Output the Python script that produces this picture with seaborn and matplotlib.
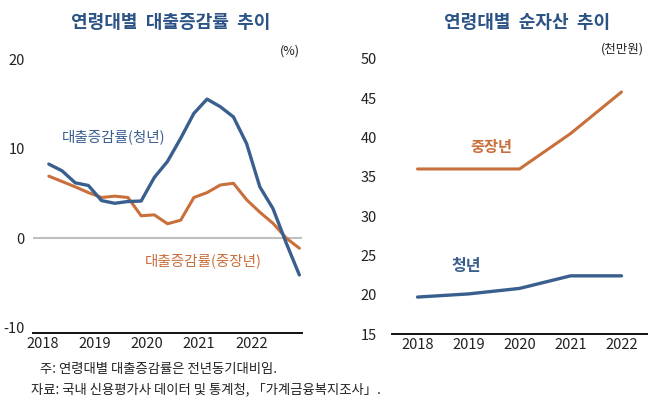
import numpy as np
import pandas as pd
import matplotlib
matplotlib.use("Agg")
import matplotlib.pyplot as plt
import seaborn as sns

# ---------------- data ----------------
quarters = [f"{y}Q{q}" for y in range(2018, 2023) for q in range(1, 5)]
loan_youth = [8.3, 7.55, 6.2, 5.9, 4.2, 3.9, 4.1, 4.15, 6.8, 8.6,
              11.2, 14.0, 15.6, 14.75, 13.6, 10.6, 5.75, 3.3, -0.55, -4.15]
loan_mid = [6.95, 6.35, 5.75, 5.1, 4.55, 4.7, 4.55, 2.5, 2.6, 1.6,
            2.0, 4.55, 5.1, 5.95, 6.15, 4.3, 2.9, 1.65, 0.0, -1.15]
year_labels = ["2018", "2019", "2020", "2021", "2022"]
asset_years = ["2018", "2019", "2020", "2021", "2022"]
asset_mid = [36.0, 36.0, 36.0, 40.5, 45.8]
asset_youth = [19.7, 20.1, 20.8, 22.4, 22.4]
left_yticks = [-10, 0, 10, 20]
right_yticks = [15, 20, 25, 30, 35, 40, 45, 50]

BLUE = "#3a5f8e"
ORANGE = "#c96f3b"
TITLE = "#2c5385"
TXT = "#222222"

sns.set_theme(style="white")
plt.rcParams["font.family"] = ["Noto Sans CJK KR", "DejaVu Sans"]

fig = plt.figure(figsize=(6.58, 4.01), dpi=100)

df_loan = pd.DataFrame({"q": quarters, "youth": loan_youth, "mid": loan_mid})
df_asset = pd.DataFrame({"y": asset_years, "youth": asset_youth, "mid": asset_mid})

# ---------------- left panel ----------------
axL = fig.add_axes([33 / 658, (401 - 333) / 401, 269 / 658, (333 - 55.5) / 401])
axL.axhline(0, color="#bfbfbf", lw=1.5, zorder=0)
sns.lineplot(data=df_loan, x="q", y="mid", ax=axL, color=ORANGE, lw=2.2, sort=False)
sns.lineplot(data=df_loan, x="q", y="youth", ax=axL, color=BLUE, lw=2.4, sort=False)
axL.set_xlim(-1.2, 19.2)
axL.set_ylim(-10.67, 20.5)
axL.set_yticks(left_yticks)
axL.set_yticklabels([str(v) for v in left_yticks])
axL.set_xticks([-0.43, 3.48, 7.4, 11.36, 15.36])
axL.set_xticklabels(year_labels)

# ---------------- right panel ----------------
axR = fig.add_axes([392 / 658, (401 - 334) / 401, 255 / 658, (334 - 51.1) / 401])
sns.lineplot(data=df_asset, x="y", y="mid", ax=axR, color=ORANGE, lw=2.2, sort=False)
sns.lineplot(data=df_asset, x="y", y="youth", ax=axR, color=BLUE, lw=2.4, sort=False)
axR.set_xlim(-0.5, 4.5)
axR.set_ylim(15, 51)
axR.set_yticks(right_yticks)
axR.set_yticklabels([str(v) for v in right_yticks])

for ax, pad in ((axL, 6), (axR, 11)):
    ax.set_xlabel("")
    ax.set_ylabel("")
    for s in ("top", "right", "left"):
        ax.spines[s].set_visible(False)
    ax.spines["bottom"].set_color("#111111")
    ax.spines["bottom"].set_linewidth(1.4)
    ax.tick_params(axis="both", length=0, labelsize=10.5, labelcolor=TXT)
    ax.tick_params(axis="y", pad=pad)
    ax.tick_params(axis="x", pad=3)
    ax.grid(False)
    ax.set_facecolor("none")

# texts positioned in pixel coords (figure pixels from top-left)
H = 401


def ftext(x, y, s, **kw):
    fig.text(x / 658, (H - y) / H, s, **kw)


ftext(171, 22, "연령대별  대출증감률  추이", fontsize=13, fontweight="bold",
      color=TITLE, ha="center", va="center")
ftext(527, 22, "연령대별  순자산  추이", fontsize=13, fontweight="bold",
      color=TITLE, ha="center", va="center")
ftext(290, 51, "(%)", fontsize=9, color=TXT, ha="center", va="center")
ftext(622, 49, "(천만원)", fontsize=9, color=TXT, ha="center", va="center")
ftext(114, 137, "대출증감률(청년)", fontsize=10.5, color=BLUE,
      ha="center", va="center")
ftext(203, 261, "대출증감률(중장년)", fontsize=10.5, color=ORANGE,
      ha="center", va="center")
ftext(491, 147, "중장년", fontsize=11, fontweight="bold", color=ORANGE,
      ha="center", va="center")
ftext(466, 266, "청년", fontsize=11.5, fontweight="bold", color=BLUE,
      ha="center", va="center")
ftext(40, 369, "주: 연령대별 대출증감률은 전년동기대비임.", fontsize=9.6,
      color=TXT, ha="left", va="center")
ftext(31, 389, "자료: 국내 신용평가사 데이터 및 통계청, 「가계금융복지조사」.",
      fontsize=9.6, color=TXT, ha="left", va="center")

fig.savefig("out.png", dpi=100)
